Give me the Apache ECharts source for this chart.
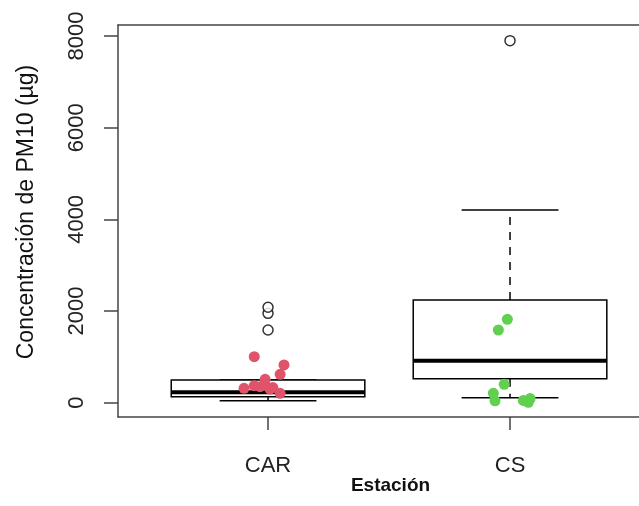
<!DOCTYPE html>
<html>
<head>
<meta charset="utf-8">
<script src="https://cdn.jsdelivr.net/npm/echarts@6/dist/echarts.min.js"></script>
<style>
  html, body { margin: 0; padding: 0; background: #fff; }
  #chart { width: 639px; height: 506px; }
</style>
</head>
<body>
<div id="chart"></div>
<script>
// station names (x positions 1 and 2)
const stations = ['CAR', 'CS'];

// box statistics per station
const boxLow = [44, 109];
const boxQ1 = [131, 524];
const boxMedian = [227, 917];
const boxQ3 = [495, 2239];
const boxHigh = [495, 4205];

// outliers drawn as open circles
const outlierX = [1, 1, 1, 2];
const outlierValues = [1586, 1950, 2082, 7900];

// jittered sample points
const carX = [0.943, 1.066, 1.05, 0.988, 0.901, 0.943, 0.967, 0.988, 1.008, 1.05, 1.02];
const carValues = [1004, 823, 619, 510, 314, 371, 349, 386, 299, 205, 330];
const csX = [1.989, 1.952, 1.976, 1.931, 1.938, 2.055, 2.083, 2.076];
const csValues = [1820, 1586, 401, 205, 40, 50, 90, 10];

const yTicks = [0, 2000, 4000, 6000, 8000];

const boxData = stations.map((s, i) => [i + 1, boxLow[i], boxQ1[i], boxMedian[i], boxQ3[i], boxHigh[i]]);
const zip = (xs, ys) => xs.map((x, i) => [x, ys[i]]);

const renderBox = (params, api) => {
  const x = api.value(0);
  const pt = (dx, v) => api.coord([x + dx, v]);
  const lo = pt(0, api.value(1));
  const q1 = pt(0, api.value(2));
  const med = pt(0, api.value(3));
  const q3 = pt(0, api.value(4));
  const hi = pt(0, api.value(5));
  const boxL = pt(-0.4, 0)[0];
  const boxR = pt(0.4, 0)[0];
  const capL = pt(-0.2, 0)[0];
  const capR = pt(0.2, 0)[0];
  const line = (x1, y1, x2, y2, w, dash) => ({
    type: 'line',
    shape: { x1, y1, x2, y2 },
    style: { stroke: '#000', lineWidth: w, lineDash: dash || null }
  });
  return {
    type: 'group',
    children: [
      line(q3[0], q3[1], hi[0], hi[1], 1.5, [8, 7]),
      line(q1[0], q1[1], lo[0], lo[1], 1.5, [8, 7]),
      line(capL, hi[1], capR, hi[1], 1.5),
      line(capL, lo[1], capR, lo[1], 1.5),
      {
        type: 'rect',
        shape: { x: boxL, y: q3[1], width: boxR - boxL, height: q1[1] - q3[1] },
        style: { fill: '#fff', stroke: '#000', lineWidth: 1.5 }
      },
      line(boxL, med[1], boxR, med[1], 4)
    ]
  };
};

const frameLine = { onZero: false, lineStyle: { color: '#444', width: 1.5 } };

const chart = echarts.init(document.getElementById('chart'));

chart.setOption({
  animation: false,
  backgroundColor: '#fff',
  textStyle: { fontFamily: 'Liberation Sans, Arial, sans-serif' },
  grid: {
    left: 118,
    right: 0,
    top: 25,
    bottom: 89
  },
  xAxis: [
    {
      type: 'value',
      min: 0.38,
      max: 2.533,
      splitLine: { show: false },
      axisLine: frameLine,
      axisTick: { length: 13, customValues: [1, 2], lineStyle: { color: '#444', width: 1.5 } },
      axisLabel: {
        customValues: [1, 2],
        formatter: v => stations[Math.round(v) - 1],
        fontSize: 22,
        color: '#222',
        margin: 38
      },
      name: 'Estación',
      nameLocation: 'middle',
      nameGap: 59,
      nameMoveOverlap: false,
      nameTextStyle: { fontSize: 19, fontWeight: 'bold', color: '#111', padding: [0, 0, 0, 24] }
    },
    {
      type: 'value',
      position: 'top',
      min: 0.38,
      max: 2.533,
      splitLine: { show: false },
      axisLine: frameLine,
      axisTick: { show: false },
      axisLabel: { show: false }
    }
  ],
  yAxis: {
    type: 'value',
    min: -312,
    max: 8241,
    splitLine: { show: false },
    axisLine: frameLine,
    axisTick: { length: 14, customValues: yTicks, lineStyle: { color: '#444', width: 1.5 } },
    axisLabel: {
      customValues: yTicks,
      formatter: v => String(v),
      rotate: 90,
      fontSize: 22,
      color: '#222',
      margin: 30
    }
  },
  graphic: [
    {
      type: 'text',
      x: 27,
      y: 212,
      rotation: Math.PI / 2,
      style: {
        text: 'Concentración de PM10 (µg)',
        font: '23px "Liberation Sans", Arial, sans-serif',
        fill: '#111',
        textAlign: 'center',
        textVerticalAlign: 'middle'
      }
    }
  ],
  series: [
    {
      type: 'custom',
      renderItem: renderBox,
      encode: { x: 0, y: [1, 2, 3, 4, 5] },
      data: boxData,
      z: 2
    },
    {
      type: 'scatter',
      data: zip(outlierX, outlierValues),
      symbol: 'circle',
      symbolSize: 10,
      itemStyle: { color: '#fff', borderColor: '#000', borderWidth: 1.5 },
      z: 3
    },
    {
      type: 'scatter',
      data: zip(carX, carValues),
      symbolSize: 11,
      itemStyle: { color: '#DF536B', opacity: 1 },
      z: 4
    },
    {
      type: 'scatter',
      data: zip(csX, csValues),
      symbolSize: 11,
      itemStyle: { color: '#61D04F', opacity: 1 },
      z: 4
    }
  ]
});
</script>
</body>
</html>
